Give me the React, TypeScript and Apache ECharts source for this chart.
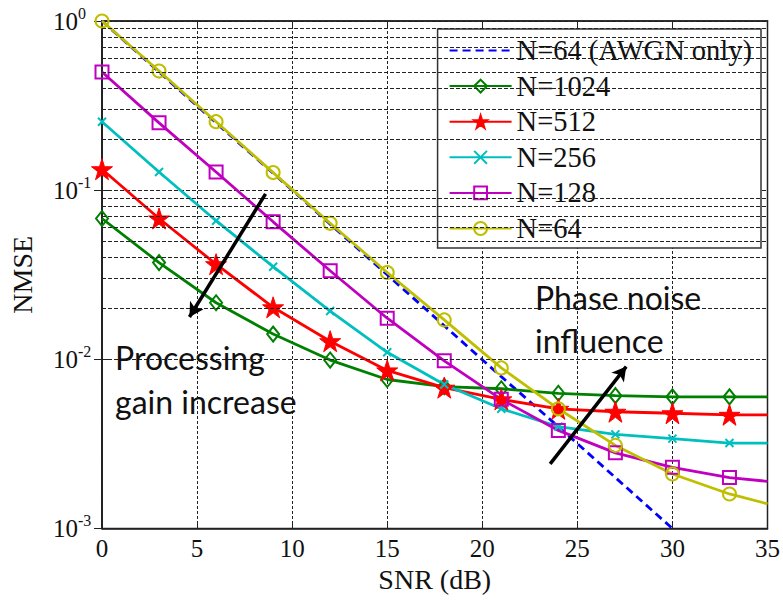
import React, { useEffect, useRef } from "react";
import * as echarts from "echarts";

// SNR (dB) sample points; markers at every 3 dB, curves continue to 35 dB
const SNR = [0, 3, 6, 9, 12, 15, 18, 21, 24, 27, 30, 33, 35];
const AWGN_SNR = [0, 3, 6, 9, 12, 15, 18, 21, 24, 27, 30];

const AWGN_ONLY = [1.0, 0.5, 0.25, 0.126, 0.063, 0.0316, 0.0158, 0.0079, 0.004, 0.002, 0.001];
const N1024 = [0.068, 0.0373, 0.0216, 0.0141, 0.0099, 0.0076, 0.0069, 0.0067, 0.0063, 0.0061, 0.006, 0.006, 0.006];
const N512 = [0.133, 0.068, 0.0365, 0.0203, 0.0128, 0.0086, 0.0068, 0.0058, 0.0051, 0.0049, 0.0048, 0.0047, 0.0047];
const N256 = [0.254, 0.128, 0.066, 0.0353, 0.0193, 0.011, 0.0071, 0.0051, 0.004, 0.0036, 0.0034, 0.0032, 0.0032];
const N128 = [0.5, 0.25, 0.128, 0.065, 0.0334, 0.0175, 0.0098, 0.0058, 0.0038, 0.0028, 0.0023, 0.002, 0.0019];
const N64 = [1.0, 0.506, 0.254, 0.127, 0.0637, 0.0326, 0.0171, 0.0089, 0.0051, 0.0031, 0.0021, 0.0016, 0.0014];

const SERIES_NAMES = ["N=64 (AWGN only)", "N=1024", "N=512", "N=256", "N=128", "N=64"];

// log-grid minor lines (2..9 x decade)
const MINOR_Y = [
  0.002, 0.003, 0.004, 0.005, 0.006, 0.007, 0.008, 0.009,
  0.02, 0.03, 0.04, 0.05, 0.06, 0.07, 0.08, 0.09,
  0.2, 0.3, 0.4, 0.5, 0.6, 0.7, 0.8, 0.9,
];

// annotation arrows in data coordinates [from, to]
const ARROW_GAIN = [[8.6, 0.095], [4.6, 0.0178]];
const ARROW_PHASE = [[23.57, 0.00241], [27.57, 0.00906]];

const STAR =
  "path://M50,2 L61.8,37.6 L99,37.6 L68.9,59.6 L80.3,95.2 L50,73.2 L19.7,95.2 L31.1,59.6 L1,37.6 L38.2,37.6 Z";
const CROSS = "path://M0,0 L10,10 M10,0 L0,10";

const SERIF = "Liberation Serif";

function mkData(xs: number[], ys: number[], lastNoSymbol: boolean) {
  return xs.map((x, i) =>
    lastNoSymbol && i === xs.length - 1 ? { value: [x, ys[i]], symbol: "none" } : [x, ys[i]]
  );
}

function markerSeries(name: string, ys: number[], color: string, symbol: string, size: any, hollow: boolean, bw: number) {
  return {
    name,
    type: "line",
    data: mkData(SNR, ys, true),
    symbol,
    symbolSize: size,
    showAllSymbol: true,
    z: 3,
    lineStyle: { color, width: 2.8 },
    itemStyle: hollow
      ? { color: "rgba(0,0,0,0)", borderColor: color, borderWidth: bw }
      : { color, borderColor: color, borderWidth: bw },
    emphasis: { disabled: true },
  };
}

export default function App() {
  const ref = useRef<HTMLDivElement>(null);
  useEffect(() => {
    const chart = echarts.init(ref.current!, null, { renderer: "svg" });
    const option: any = {
      animation: false,
      backgroundColor: "#fff",
      grid: { left: 96.5, top: 21, right: 13, bottom: 72.5, show: true, borderColor: "#222", borderWidth: 1.5 },
      xAxis: [
        {
          type: "value",
          min: 0,
          max: 35,
          interval: 5,
          axisLine: { show: true, lineStyle: { color: "#222", width: 1.5 } },
          axisTick: { show: true, inside: true, length: 7, lineStyle: { color: "#222" } },
          axisLabel: { fontFamily: SERIF, fontSize: 25, color: "#111", margin: 7 },
          splitLine: { show: true, lineStyle: { color: "#222", type: [3, 2], width: 1 } },
          name: "SNR (dB)",
          nameLocation: "middle",
          nameGap: 35,
          nameTextStyle: { fontFamily: SERIF, fontSize: 28, color: "#111" },
        },
        {
          type: "value",
          position: "top",
          min: 0,
          max: 35,
          interval: 5,
          axisLine: { show: true, lineStyle: { color: "#222", width: 1.5 } },
          axisTick: { show: true, inside: true, length: 7, lineStyle: { color: "#222" } },
          axisLabel: { show: false },
          splitLine: { show: false },
        },
      ],
      yAxis: [
        {
          type: "log",
          logBase: 10,
          min: 0.001,
          max: 1,
          axisLine: { show: true, lineStyle: { color: "#222", width: 1.5 } },
          axisTick: { show: true, inside: true, length: 8, lineStyle: { color: "#222" } },
          axisLabel: {
            align: "left",
            margin: 49,
            formatter: (v: number) => `{b|10}{s|${Math.round(Math.log10(v))}}`,
            rich: {
              b: { fontFamily: SERIF, fontSize: 25, color: "#111" },
              s: { fontFamily: SERIF, fontSize: 16, color: "#111", padding: [0, 0, 16, 0] },
            },
          },
          splitLine: { show: true, lineStyle: { color: "#222", type: [4, 2], width: 1 } },
          name: "NMSE",
          nameLocation: "middle",
          nameGap: 66,
          nameTextStyle: { fontFamily: SERIF, fontSize: 28, color: "#111" },
        },
        {
          type: "log",
          logBase: 10,
          min: 0.001,
          max: 1,
          position: "right",
          axisLine: { show: true, lineStyle: { color: "#222", width: 1.5 } },
          axisTick: { show: true, inside: true, length: 8, lineStyle: { color: "#222" } },
          axisLabel: { show: false },
          splitLine: { show: false },
        },
      ],
      legend: {
        data: SERIES_NAMES,
        orient: "vertical",
        right: 22,
        top: 29,
        padding: [7, 9, 5, 11],
        itemGap: 6.6,
        itemWidth: 62,
        itemHeight: 16,
        backgroundColor: "#fff",
        borderColor: "#333",
        borderWidth: 1.5,
        borderRadius: 0,
        selectedMode: false,
        textStyle: { fontFamily: SERIF, fontSize: 28.5, lineHeight: 28, color: "#111" },
      },
      graphic: [
        { type: "text", x: 115, y: 357, z: 20, style: { text: "Processing", fontFamily: "Lato", fontSize: 32, fill: "#111", verticalAlign: "middle" } },
        { type: "text", x: 115, y: 401.5, z: 20, style: { text: "gain increase", fontFamily: "Lato", fontSize: 32, fill: "#111", verticalAlign: "middle" } },
        { type: "text", x: 535, y: 297.5, z: 20, style: { text: "Phase noise", fontFamily: "Lato", fontSize: 32, fill: "#111", verticalAlign: "middle" } },
        { type: "text", x: 535, y: 340, z: 20, style: { text: "influence", fontFamily: "Lato", fontSize: 32, fill: "#111", verticalAlign: "middle" } },
      ],
      series: [
        {
          name: "grid-minor",
          type: "line",
          data: [],
          z: 1,
          silent: true,
          markLine: {
            silent: true,
            symbol: "none",
            label: { show: false },
            emphasis: { disabled: true },
            lineStyle: { color: "#222", type: [4, 2], width: 1 },
            data: MINOR_Y.map((y) => ({ yAxis: y })),
          },
        },
        {
          name: SERIES_NAMES[0],
          type: "line",
          data: mkData(AWGN_SNR, AWGN_ONLY, false),
          symbol: "circle",
          symbolSize: 1,
          showSymbol: false,
          z: 2,
          lineStyle: { color: "#0000FF", width: 2.8, type: [8, 5] },
          itemStyle: { color: "rgba(0,0,0,0)", borderColor: "rgba(0,0,0,0)", borderWidth: 0 },
          emphasis: { disabled: true },
        },
        markerSeries(SERIES_NAMES[1], N1024, "#008000", "diamond", [12, 15], true, 2),
        markerSeries(SERIES_NAMES[2], N512, "#FF0000", STAR, 21, false, 1),
        markerSeries(SERIES_NAMES[3], N256, "#00BFBF", CROSS, 8, false, 2),
        markerSeries(SERIES_NAMES[4], N128, "#BF00BF", "rect", 13, true, 2),
        markerSeries(SERIES_NAMES[5], N64, "#BFBF00", "circle", 13, true, 2),
        {
          name: "arrows",
          type: "line",
          data: [],
          z: 10,
          silent: true,
          markLine: {
            silent: true,
            symbol: ["none", "arrow"],
            symbolSize: [12, 14],
            label: { show: false },
            emphasis: { disabled: true },
            lineStyle: { color: "#000", type: "solid", width: 3.5 },
            data: [
              [{ coord: ARROW_GAIN[0] }, { coord: ARROW_GAIN[1] }],
              [{ coord: ARROW_PHASE[0] }, { coord: ARROW_PHASE[1] }],
            ],
          },
        },
      ],
    };
    chart.setOption(option);
    return () => chart.dispose();
  }, []);
  return (
    <div
      ref={ref}
      style={{ position: "absolute", left: 0, top: 0, width: 783, height: 601, background: "#fff" }}
    />
  );
}
